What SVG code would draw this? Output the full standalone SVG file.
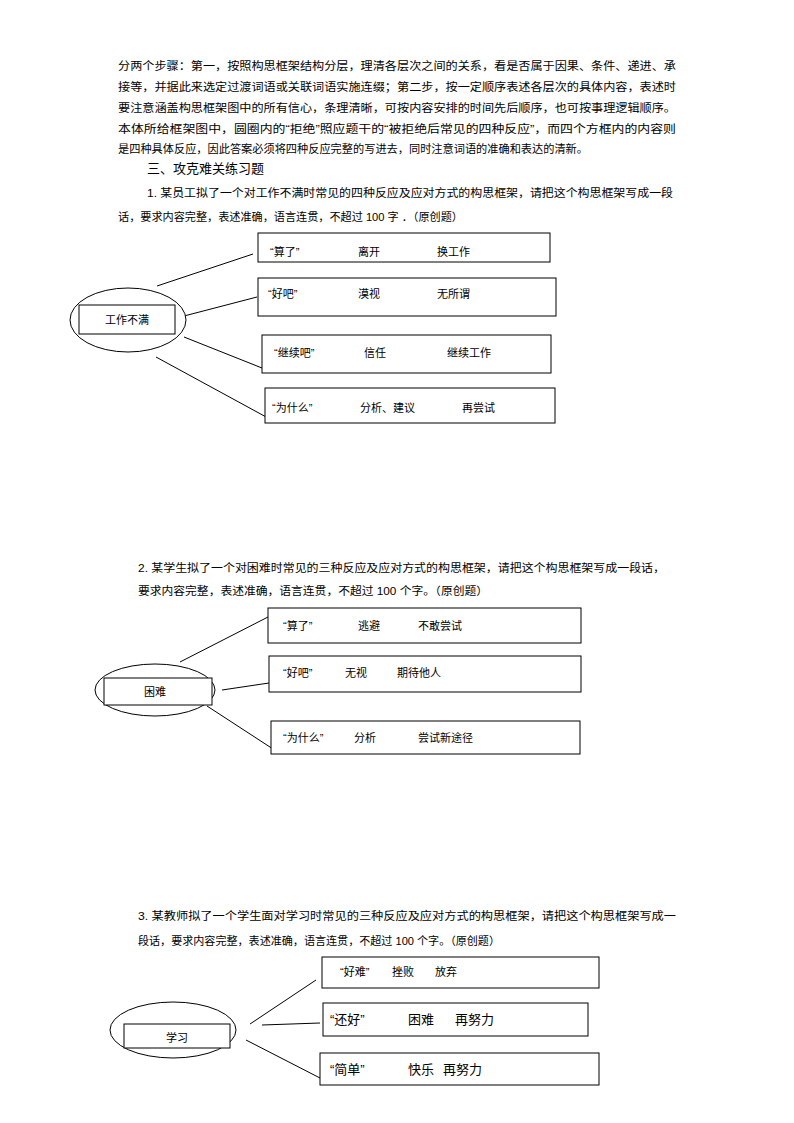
<svg xmlns="http://www.w3.org/2000/svg" width="794" height="1123" viewBox="0 0 794 1123">
<style>
text{font-family:"Liberation Sans","Noto Sans CJK SC",sans-serif;font-size:11px;fill:#000}
.b{fill:#fff;stroke:#000;stroke-width:1}
.c line{stroke:#000;stroke-width:1}
.big{font-size:13px}
</style>
<rect width="794" height="1123" fill="#fff"/>
<g id="intro">
<text x="118" y="70" textLength="558" lengthAdjust="spacingAndGlyphs">分两个步骤：第一，按照构思框架结构分层，理清各层次之间的关系，看是否属于因果、条件、递进、承</text>
<text x="118" y="91" textLength="558" lengthAdjust="spacingAndGlyphs">接等，并据此来选定过渡词语或关联词语实施连缀；第二步，按一定顺序表述各层次的具体内容，表述时</text>
<text x="118" y="112" textLength="558" lengthAdjust="spacingAndGlyphs">要注意涵盖构思框架图中的所有信心，条理清晰，可按内容安排的时间先后顺序，也可按事理逻辑顺序。</text>
<text x="118" y="133" textLength="558" lengthAdjust="spacingAndGlyphs">本体所给框架图中，圆圈内的“拒绝”照应题干的“被拒绝后常见的四种反应”，而四个方框内的内容则</text>
<text x="118" y="153" textLength="470" lengthAdjust="spacingAndGlyphs">是四种具体反应，因此答案必须将四种反应完整的写进去，同时注意词语的准确和表达的清新。</text>
<text x="147" y="173" class="big">三、攻克难关练习题</text>
<text x="147" y="197" textLength="526" lengthAdjust="spacingAndGlyphs">1. 某员工拟了一个对工作不满时常见的四种反应及应对方式的构思框架，请把这个构思框架写成一段</text>
<text x="118" y="221" textLength="345" lengthAdjust="spacingAndGlyphs">话，要求内容完整，表述准确，语言连贯，不超过 100 字 ．（原创题）</text>
<text x="138" y="572" textLength="527" lengthAdjust="spacingAndGlyphs">2.  某学生拟了一个对困难时常见的三种反应及应对方式的构思框架，请把这个构思框架写成一段话，</text>
<text x="138" y="595" textLength="350" lengthAdjust="spacingAndGlyphs">要求内容完整，表述准确，语言连贯，不超过 100 个字。（原创题）</text>
<text x="138" y="920" textLength="538" lengthAdjust="spacingAndGlyphs">3.  某教师拟了一个学生面对学习时常见的三种反应及应对方式的构思框架，请把这个构思框架写成一</text>
<text x="138" y="945" textLength="362" lengthAdjust="spacingAndGlyphs">段话，要求内容完整，表述准确，语言连贯，不超过 100 个字。（原创题）</text>
</g>
<g id="connectors" class="c">
<line x1="157" y1="286" x2="253" y2="254"/>
<line x1="184" y1="316" x2="257" y2="297"/>
<line x1="184" y1="337" x2="262" y2="368"/>
<line x1="156" y1="357" x2="268" y2="418"/>
<line x1="180" y1="662" x2="268" y2="617"/>
<line x1="222" y1="690" x2="269" y2="683"/>
<line x1="207" y1="706" x2="273" y2="749"/>
<line x1="250" y1="1024" x2="316" y2="980"/>
<line x1="262" y1="1025" x2="320" y2="1023"/>
<line x1="246" y1="1040" x2="320" y2="1078"/>
</g>
<g id="center1"><ellipse class="b" cx="128" cy="320" rx="58" ry="32"/><rect class="b" x="79" y="305" width="96" height="29"/><text x="127" y="324" text-anchor="middle">工作不满</text></g>
<g id="n1a"><rect class="b" x="258" y="233" width="292" height="29"/><text x="270" y="256">“算了”</text><text x="358" y="256">离开</text><text x="437" y="256">换工作</text></g>
<g id="n1b"><rect class="b" x="258" y="278" width="298" height="38"/><text x="268" y="298">“好吧”</text><text x="358" y="298">漠视</text><text x="437" y="298">无所谓</text></g>
<g id="n1c"><rect class="b" x="262" y="335" width="289" height="38"/><text x="274" y="357">“继续吧”</text><text x="364" y="357">信任</text><text x="447" y="357">继续工作</text></g>
<g id="n1d"><rect class="b" x="265" y="388" width="290" height="35"/><text x="272" y="412">“为什么”</text><text x="360" y="412">分析、建议</text><text x="462" y="412">再尝试</text></g>
<g id="center2"><ellipse class="b" cx="155" cy="690" rx="60" ry="26"/><rect class="b" x="104" y="678" width="108" height="27"/><text x="155" y="696" text-anchor="middle">困难</text></g>
<g id="n2a"><rect class="b" x="268" y="608" width="313" height="35"/><text x="283" y="630">“算了”</text><text x="358" y="630">逃避</text><text x="418" y="630">不敢尝试</text></g>
<g id="n2b"><rect class="b" x="269" y="656" width="312" height="36"/><text x="283" y="677">“好吧”</text><text x="345" y="677">无视</text><text x="397" y="677">期待他人</text></g>
<g id="n2c"><rect class="b" x="271" y="721" width="309" height="33"/><text x="283" y="742">“为什么”</text><text x="354" y="742">分析</text><text x="418" y="742">尝试新途径</text></g>
<g id="center3"><ellipse class="b" cx="173" cy="1030" rx="63" ry="28"/><rect class="b" x="124" y="1024" width="106" height="24"/><text x="177" y="1042" text-anchor="middle">学习</text></g>
<g id="n3a"><rect class="b" x="322" y="957" width="277" height="31"/><text x="340" y="976">“好难”</text><text x="392" y="976">挫败</text><text x="435" y="976">放弃</text></g>
<g id="n3b"><rect class="b" x="323" y="1003" width="265" height="33"/><text class="big" x="330" y="1024">“还好”</text><text class="big" x="408" y="1024">困难</text><text class="big" x="455" y="1024">再努力</text></g>
<g id="n3c"><rect class="b" x="320" y="1053" width="279" height="32"/><text class="big" x="330" y="1074">“简单”</text><text class="big" x="408" y="1074">快乐</text><text class="big" x="443" y="1074">再努力</text></g>
</svg>
